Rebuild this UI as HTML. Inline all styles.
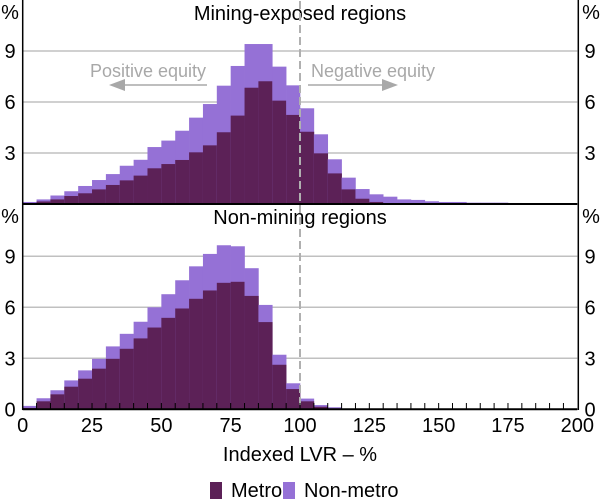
<!DOCTYPE html>
<html><head><meta charset="utf-8">
<style>
html,body{margin:0;padding:0;background:#fff;}
svg{display:block;font-family:"Liberation Sans",Arial,sans-serif;}
</style></head>
<body>
<svg id="chart" width="600" height="499" viewBox="0 0 600 499" xmlns="http://www.w3.org/2000/svg">
<g id="grid"></g>
<g id="bars"></g>
<g id="frame"></g>
</svg>
<script>
const binStarts = [0,5,10,15,20,25,30,35,40,45,50,55,60,65,70,75,80,85,90,95,100,105,110,115,120,125,130,135,140,145,150,155,160,165,170,175,180,185];
const miningMetro = [0.05,0.15,0.27,0.47,0.63,0.86,1.12,1.39,1.67,2.1,2.35,2.59,3.04,3.45,4.22,5.2,6.84,7.22,6.08,5.24,4.25,2.98,1.8,0.86,0.31,0.12,0.05,0.03,0.02,0.01,0,0,0,0,0,0,0,0];
const miningTotal = [0.12,0.27,0.5,0.75,1.06,1.41,1.76,2.25,2.6,3.35,3.73,4.31,5.08,5.88,6.96,8.12,9.41,9.41,8.08,6.98,5.63,4.1,2.63,1.55,0.88,0.57,0.43,0.27,0.24,0.16,0.12,0.12,0.08,0.08,0.08,0.06,0.05,0.05];
const nonMiningMetro = [0.08,0.47,0.88,1.33,1.8,2.39,2.97,3.56,4.17,4.81,5.38,5.93,6.5,6.99,7.44,7.5,6.67,5.13,2.62,1.19,0.47,0.15,0.05,0,0,0,0,0,0,0,0,0,0,0,0,0,0,0];
const nonMiningTotal = [0.2,0.65,1.12,1.7,2.29,2.97,3.7,4.44,5.15,6.0,6.77,7.59,8.41,9.14,9.65,9.59,8.3,6.14,3.21,1.53,0.63,0.25,0.12,0.04,0.02,0,0,0,0,0,0,0,0,0,0,0,0,0];
const xTicks = [0,25,50,75,100,125,150,175,200];
const yTicks = [3,6,9];

const NS="http://www.w3.org/2000/svg";
const X0=22.7, X1=577.3, FS=20;
function x(v){return X0+(X1-X0)*v/200;}
const panels=[{top:1,base:204,metro:miningMetro,total:miningTotal,title:"Mining-exposed regions",key:"mining",zero:false},
              {top:205,base:409.3,metro:nonMiningMetro,total:nonMiningTotal,title:"Non-mining regions",key:"non-mining",zero:true}];
const UNIT=17.0;
function mk(tag,attrs,parent){const e=document.createElementNS(NS,tag);for(const k in attrs)e.setAttribute(k,attrs[k]);parent.appendChild(e);return e;}
const grid=document.getElementById('grid'),bars=document.getElementById('bars'),frame=document.getElementById('frame');
panels.forEach(p=>{
  const y=v=>p.base-v*UNIT;
  yTicks.forEach(t=>{
    const l=mk('line',{x1:X0,x2:X1,y1:y(t),y2:y(t),stroke:'#c0c0c0','stroke-width':1.5},grid);
    
    
  });
  const labs=p.zero?[0].concat(yTicks):yTicks;
  labs.forEach(t=>{
    const a=mk('text',{x:10,y:y(t)+7,'font-size':FS,'text-anchor':'middle'},frame);a.textContent=t;
    
    
    const b=mk('text',{x:590,y:y(t)+7,'font-size':FS,'text-anchor':'middle'},frame);b.textContent=t;
    
    
  });
  binStarts.forEach((s,i)=>{
    const w=x(s+5)-x(s);
    if(p.total[i]>0){
      const r=mk('rect',{x:x(s),y:y(p.total[i]),width:w+0.3,height:p.total[i]*UNIT,fill:'#9571d6'},bars);
      
      
    }
    if(p.metro[i]>0){
      const r=mk('rect',{x:x(s),y:y(p.metro[i]),width:w+0.3,height:p.metro[i]*UNIT,fill:'#5c2157'},bars);
      
      
    }
  });
  const pl=mk('text',{x:10,y:p.top+18,'font-size':FS,'text-anchor':'middle'},frame);pl.textContent='%';
  
  
  const pr=mk('text',{x:591,y:p.top+18,'font-size':FS,'text-anchor':'middle'},frame);pr.textContent='%';
  
  
  const tt=mk('text',{x:300,y:p.top+19,'font-size':FS,'text-anchor':'middle'},frame);tt.textContent=p.title;
  
  
  const bl=mk('line',{x1:X0,x2:X1,y1:p.base,y2:p.base,stroke:'#000','stroke-width':2},frame);
  
  
});
const dl=mk('line',{x1:x(100),x2:x(100),y1:1,y2:409,stroke:'#b0b0b0','stroke-width':2,'stroke-dasharray':'8,4'},frame);


[[X0,'left-axis-line'],[X1+1,'right-axis-line']].forEach(([xx,n])=>{
  const l=mk('line',{x1:xx,x2:xx,y1:0,y2:410,stroke:'#000','stroke-width':1.5},frame);
  
  
});
for(let v=5;v<200;v+=5){
  const t=mk('line',{x1:x(v),x2:x(v),y1:409,y2:403,stroke:'#000','stroke-width':1},frame);
  
  
}
xTicks.forEach(v=>{
  const t=mk('text',{x:x(v),y:432,'font-size':FS,'text-anchor':'middle'},frame);t.textContent=v;
  
  
});
function ann(txt,tx,ax1,ax2,name){
  const t=mk('text',{x:tx,y:77,'font-size':18,fill:'#a8a8a8','text-anchor':'middle'},frame);t.textContent=txt;
  
  
  const l=mk('line',{x1:ax1,x2:ax2,y1:85,y2:85,stroke:'#a8a8a8','stroke-width':1.5},frame);
  
  
  const d=ax2>ax1?1:-1;
  const h=mk('polygon',{points:`${ax2+d*6},85 ${ax2-d*10},79 ${ax2-d*10},91`,fill:'#a8a8a8'},frame);
  
  
}
ann('Positive equity',148,207,115,'positive-equity');
ann('Negative equity',373,308,392,'negative-equity');
const xt=mk('text',{x:300,y:461,'font-size':FS,'text-anchor':'middle'},frame);xt.textContent='Indexed LVR – %';


const lm=mk('rect',{x:210,y:482,width:12,height:17,fill:'#5c2157'},frame);


const lmt=mk('text',{x:231,y:497,'font-size':FS},frame);lmt.textContent='Metro';


const ln=mk('rect',{x:283,y:482,width:12,height:17,fill:'#9571d6'},frame);


const lnt=mk('text',{x:304,y:497,'font-size':FS},frame);lnt.textContent='Non-metro';


</script>
</body></html>
